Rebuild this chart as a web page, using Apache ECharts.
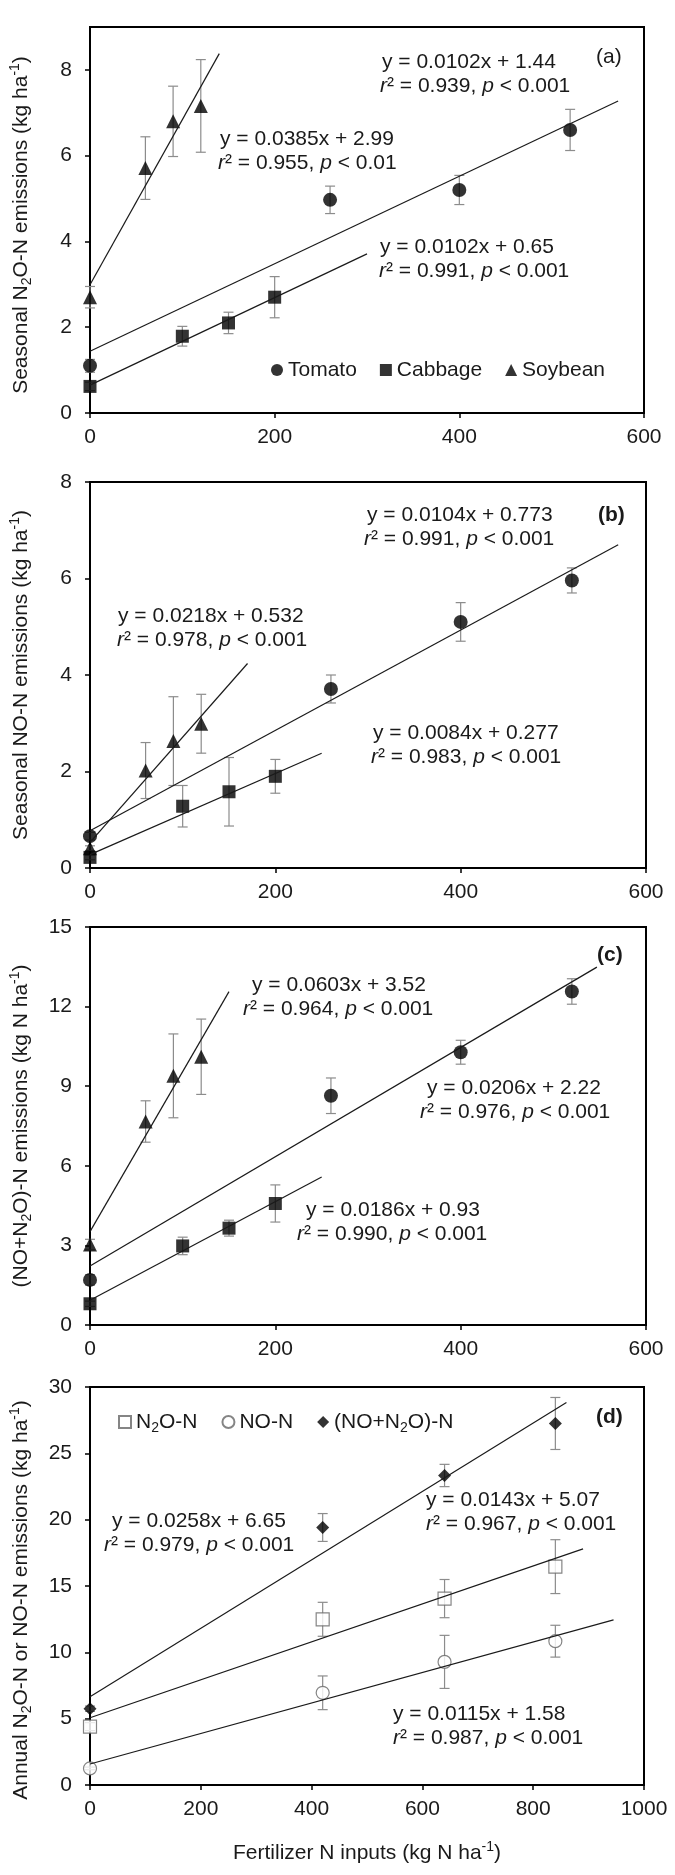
<!DOCTYPE html>
<html>
<head>
<meta charset="utf-8">
<script src="https://cdn.jsdelivr.net/npm/echarts@6/dist/echarts.min.js"></script>
<style>
html,body{margin:0;padding:0;background:#fff;}
#chart{width:675px;height:1875px;}
</style>
</head>
<body>
<div id="chart"></div>
<script>
// ---------------- DATA ----------------
const xTomato  = [0, 260, 400, 520];
const xCabbage = [0, 100, 150, 200];
const xSoybean = [0, 60, 90, 120];
const xAnnual  = [0, 420, 640, 840];

// (a) seasonal N2O-N
const n2oTomato = [1.10, 4.97, 5.20, 6.60];
const n2oTomatoErr = [0.15, 0.32, 0.34, 0.48];
const n2oCabbage = [0.62, 1.79, 2.10, 2.70];
const n2oCabbageErr = [0.10, 0.23, 0.25, 0.48];
const n2oSoybean = [2.70, 5.71, 6.80, 7.16];
const n2oSoybeanErr = [0.25, 0.73, 0.82, 1.08];

// (b) seasonal NO-N
const noTomato = [0.66, 3.71, 5.10, 5.96];
const noTomatoErr = [0.08, 0.29, 0.40, 0.26];
const noCabbage = [0.22, 1.28, 1.58, 1.90];
const noCabbageErr = [0.05, 0.43, 0.71, 0.35];
const noSoybean = [0.41, 2.02, 2.63, 2.99];
const noSoybeanErr = [0.05, 0.58, 0.92, 0.61];

// (c) seasonal (NO+N2O)-N
const sumTomato = [1.70, 8.64, 10.28, 12.57];
const sumTomatoErr = [0.20, 0.67, 0.45, 0.48];
const sumCabbage = [0.80, 2.98, 3.65, 4.58];
const sumCabbageErr = [0.10, 0.33, 0.30, 0.70];
const sumSoybean = [3.03, 7.67, 9.39, 10.11];
const sumSoybeanErr = [0.20, 0.78, 1.58, 1.42];

// (d) annual
const annualN2O = [4.40, 12.49, 14.05, 16.46];
const annualN2OErr = [0.30, 1.28, 1.44, 2.03];
const annualNO = [1.25, 6.95, 9.28, 10.84];
const annualNOErr = [0.10, 1.27, 2.00, 1.20];
const annualSum = [5.75, 19.41, 23.33, 27.25];
const annualSumErr = [0.20, 1.05, 0.84, 1.96];

// regression fits: [slope, intercept, x end of drawn line]
const fitN2OTomato = [0.0102, 1.44, 572];
const fitN2OCabbage = [0.0102, 0.65, 300];
const fitN2OSoybean = [0.0385, 2.99, 140];
const fitNOTomato = [0.0104, 0.773, 570];
const fitNOCabbage = [0.0084, 0.277, 250];
const fitNOSoybean = [0.0218, 0.532, 170];
const fitSumTomato = [0.0206, 2.22, 547];
const fitSumCabbage = [0.0186, 0.93, 250];
const fitSumSoybean = [0.0603, 3.52, 150];
const fitAnnualN2O = [0.0143, 5.07, 890];
const fitAnnualNO = [0.0115, 1.58, 945];
const fitAnnualSum = [0.0258, 6.65, 860];

// equation labels
const eqTextsA = [['y = 0.0102x + 1.44', '0.939', '0.001'], ['y = 0.0385x + 2.99', '0.955', '0.01'], ['y = 0.0102x + 0.65', '0.991', '0.001']];
const eqTextsB = [['y = 0.0104x + 0.773', '0.991', '0.001'], ['y = 0.0218x + 0.532', '0.978', '0.001'], ['y = 0.0084x + 0.277', '0.983', '0.001']];
const eqTextsC = [['y = 0.0603x + 3.52', '0.964', '0.001'], ['y = 0.0206x + 2.22', '0.976', '0.001'], ['y = 0.0186x + 0.93', '0.990', '0.001']];
const eqTextsD = [['y = 0.0143x + 5.07', '0.967', '0.001'], ['y = 0.0258x + 6.65', '0.979', '0.001'], ['y = 0.0115x + 1.58', '0.987', '0.001']];
const panelLetters = ['(a)', '(b)', '(c)', '(d)'];

const xTicksSeasonal = [0, 200, 400, 600];
const xTicksAnnual = [0, 200, 400, 600, 800, 1000];
const yTicksA = [0, 2, 4, 6, 8];

// ---------------- LAYOUT / STYLE ----------------
const FONT = '"Liberation Sans", Arial, Helvetica, sans-serif';
const TXT = '#1a1a1a';
const FS = 21;
const richBase = {
  sub: {fontSize: 14, lineHeight: 14, verticalAlign: 'bottom', fontFamily: FONT, color: TXT},
  sup: {fontSize: 14, lineHeight: 14, verticalAlign: 'top', fontFamily: FONT, color: TXT}
};

const grids = [
  {left: 86, top: 27, width: 558, height: 386},
  {left: 88, top: 482, width: 558, height: 386},
  {left: 89, top: 927, width: 557, height: 398},
  {left: 89, top: 1387, width: 555, height: 398}
].map(g => Object.assign(g, {show: true, borderColor: '#000', borderWidth: 2, backgroundColor: 'transparent'}));

function xAxisFor(i, ticks, name) {
  const ax = {
    gridIndex: i, type: 'value', min: 0, max: ticks[ticks.length - 1], interval: 200,
    axisLine: {show: true, onZero: false, lineStyle: {color: '#000', width: 2}},
    axisTick: {show: true, length: 5, lineStyle: {color: '#000', width: 1.5}},
    axisLabel: {fontSize: FS, color: TXT, fontFamily: FONT, margin: 14, formatter: v => String(v)},
    splitLine: {show: false}
  };
  if (name) {
    ax.name = name; ax.nameLocation = 'middle'; ax.nameGap = 55;
    ax.nameTextStyle = {fontSize: FS, color: TXT, fontFamily: FONT, lineHeight: 26, rich: richBase};
  }
  return ax;
}
function yAxisFor(i, max, interval, name, custom, shift) {
  const ax = {
    gridIndex: i, type: 'value', min: 0, max: max, interval: interval,
    axisLine: {show: true, onZero: false, lineStyle: {color: '#000', width: 2}},
    axisTick: {show: true, length: 5, lineStyle: {color: '#000', width: 1.5}},
    axisLabel: {fontSize: FS, color: TXT, fontFamily: FONT, margin: 18, formatter: v => String(v)},
    splitLine: {show: false},
    name: name, nameLocation: 'middle', nameGap: 56,
    nameTextStyle: {fontSize: FS, color: TXT, fontFamily: FONT, lineHeight: 26, rich: richBase,
      padding: shift ? [0, shift > 0 ? shift * 2 : 0, 0, shift < 0 ? -shift * 2 : 0] : 0}
  };
  if (custom) {
    ax.axisLabel.customValues = custom;
    ax.axisTick.customValues = custom;
  }
  return ax;
}

const xAxes = [
  xAxisFor(0, xTicksSeasonal),
  xAxisFor(1, xTicksSeasonal),
  xAxisFor(2, xTicksSeasonal),
  xAxisFor(3, xTicksAnnual, 'Fertilizer N inputs (kg N ha{sup|-1})')
];
const yAxes = [
  yAxisFor(0, 9, 2, 'Seasonal N{sub|2}O-N emissions (kg ha{sup|-1})', yTicksA, 5),
  yAxisFor(1, 8, 2, 'Seasonal NO-N emissions (kg ha{sup|-1})'),
  yAxisFor(2, 15, 3, '(NO+N{sub|2}O)-N emissions (kg N ha{sup|-1})'),
  yAxisFor(3, 30, 5, 'Annual N{sub|2}O-N or NO-N emissions (kg ha{sup|-1})', null, 14)
];

function errRender(params, api) {
  const x = api.value(0), y = api.value(1), e = api.value(2);
  const hi = api.coord([x, y + e]);
  const lo = api.coord([x, y - e]);
  const w = 5;
  const st = {stroke: '#8c8c8c', lineWidth: 1.2};
  return {
    type: 'group',
    children: [
      {type: 'line', shape: {x1: hi[0], y1: hi[1], x2: lo[0], y2: lo[1]}, style: st},
      {type: 'line', shape: {x1: hi[0] - w, y1: hi[1], x2: hi[0] + w, y2: hi[1]}, style: st},
      {type: 'line', shape: {x1: lo[0] - w, y1: lo[1], x2: lo[0] + w, y2: lo[1]}, style: st}
    ]
  };
}

const series = [];
function addGroup(gi, name, xs, ys, es, fit, symbol, size, itemStyle) {
  series.push({
    type: 'custom', name: name + ' error', xAxisIndex: gi, yAxisIndex: gi,
    data: xs.map((x, i) => [x, ys[i], es[i]]),
    encode: {x: 0, y: 1}, renderItem: errRender, z: 1, silent: true
  });
  series.push({
    type: 'scatter', name: name, xAxisIndex: gi, yAxisIndex: gi,
    data: xs.map((x, i) => [x, ys[i]]),
    symbol: symbol, symbolSize: size, itemStyle: itemStyle, z: 2
  });
  series.push({
    type: 'line', xAxisIndex: gi, yAxisIndex: gi,
    data: [[0, fit[1]], [fit[2], fit[0] * fit[2] + fit[1]]],
    symbol: 'none', showSymbol: false, silent: true,
    lineStyle: {color: '#1a1a1a', width: 1.2}, z: 3
  });
}
const filled = {color: '#000'};
const open = {color: '#fff', borderColor: '#666', borderWidth: 1.2};

addGroup(0, 'Tomato', xTomato, n2oTomato, n2oTomatoErr, fitN2OTomato, 'circle', 14, filled);
addGroup(0, 'Cabbage', xCabbage, n2oCabbage, n2oCabbageErr, fitN2OCabbage, 'rect', 13, filled);
addGroup(0, 'Soybean', xSoybean, n2oSoybean, n2oSoybeanErr, fitN2OSoybean, 'triangle', 14, filled);

addGroup(1, 'Tomato', xTomato, noTomato, noTomatoErr, fitNOTomato, 'circle', 14, filled);
addGroup(1, 'Cabbage', xCabbage, noCabbage, noCabbageErr, fitNOCabbage, 'rect', 13, filled);
addGroup(1, 'Soybean', xSoybean, noSoybean, noSoybeanErr, fitNOSoybean, 'triangle', 14, filled);

addGroup(2, 'Tomato', xTomato, sumTomato, sumTomatoErr, fitSumTomato, 'circle', 14, filled);
addGroup(2, 'Cabbage', xCabbage, sumCabbage, sumCabbageErr, fitSumCabbage, 'rect', 13, filled);
addGroup(2, 'Soybean', xSoybean, sumSoybean, sumSoybeanErr, fitSumSoybean, 'triangle', 14, filled);

addGroup(3, 'N2O-N', xAnnual, annualN2O, annualN2OErr, fitAnnualN2O, 'rect', 13, open);
addGroup(3, 'NO-N', xAnnual, annualNO, annualNOErr, fitAnnualNO, 'circle', 13, open);
addGroup(3, '(NO+N2O)-N', xAnnual, annualSum, annualSumErr, fitAnnualSum, 'diamond', 13, filled);

const legendLabels = {'N2O-N': 'N{sub|2}O-N', 'NO-N': 'NO-N', '(NO+N2O)-N': '(NO+N{sub|2}O)-N'};
const legends = [
  {
    data: [{name: 'Tomato', icon: 'circle'}, {name: 'Cabbage', icon: 'rect'}, {name: 'Soybean', icon: 'triangle'}],
    left: 271, top: 357, itemWidth: 12, itemHeight: 12, itemGap: 23, padding: 0,
    selectedMode: false,
    textStyle: {fontSize: FS, color: TXT, fontFamily: FONT, lineHeight: 26}
  },
  {
    data: [{name: 'N2O-N', icon: 'rect'}, {name: 'NO-N', icon: 'circle'}, {name: '(NO+N2O)-N', icon: 'diamond'}],
    left: 118, top: 1409, itemWidth: 12, itemHeight: 12, itemGap: 24, padding: 0,
    selectedMode: false,
    formatter: n => legendLabels[n],
    textStyle: {fontSize: FS, color: TXT, fontFamily: FONT, lineHeight: 26, rich: richBase}
  }
];

// annotation text (equations and panel letters)
const graphics = [];
function addText(x, y, text, bold) {
  graphics.push({
    type: 'text', x: x, y: y, silent: true,
    style: {
      text: text, fill: TXT, fontSize: FS, fontFamily: FONT, fontWeight: bold ? 'bold' : 'normal',
      align: 'left', verticalAlign: 'middle',
      rich: {i: {fontStyle: 'italic', fontSize: FS, fontFamily: FONT, fill: TXT, color: TXT}}
    }
  });
}
function addEq(t, x1, y1, x2) {
  addText(x1, y1, t[0]);
  addText(x2, y1 + 24, '{i|r}² = ' + t[1] + ', {i|p} < ' + t[2]);
}
// panel a
addEq(eqTextsA[0], 382, 62, 380);
addEq(eqTextsA[1], 220, 139, 218);
addEq(eqTextsA[2], 380, 247, 379);
addText(596, 57, panelLetters[0], false);
// panel b
addEq(eqTextsB[0], 367, 515, 364);
addEq(eqTextsB[1], 118, 616, 117);
addEq(eqTextsB[2], 373, 733, 371);
addText(598, 515, panelLetters[1], true);
// panel c
addEq(eqTextsC[0], 252, 985, 243);
addEq(eqTextsC[1], 427, 1088, 420);
addEq(eqTextsC[2], 306, 1210, 297);
addText(597, 955, panelLetters[2], true);
// panel d
addEq(eqTextsD[0], 426, 1500, 426);
addEq(eqTextsD[1], 112, 1521, 104);
addEq(eqTextsD[2], 393, 1714, 393);
addText(596, 1417, panelLetters[3], true);

const chart = echarts.init(document.getElementById('chart'), null, {renderer: 'canvas'});
chart.setOption({
  animation: false,
  backgroundColor: '#fff',
  textStyle: {fontFamily: FONT},
  grid: grids,
  xAxis: xAxes,
  yAxis: yAxes,
  legend: legends,
  series: series,
  graphic: graphics
});
</script>
</body>
</html>
